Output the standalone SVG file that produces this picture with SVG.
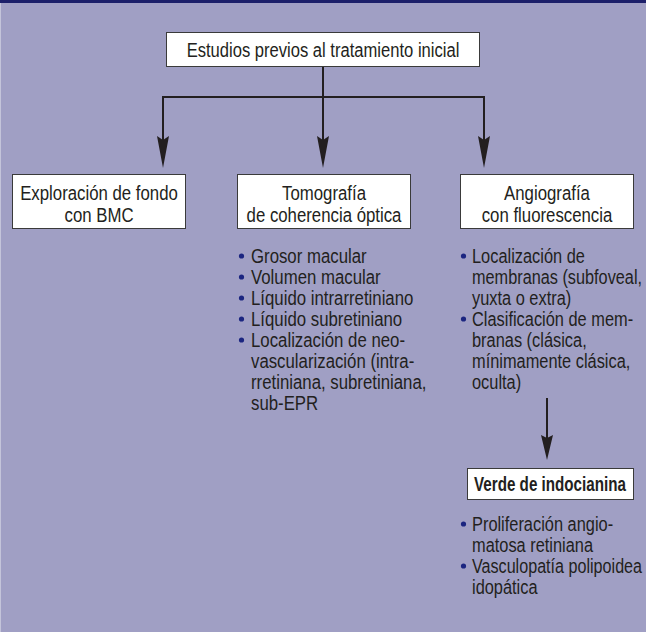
<svg xmlns="http://www.w3.org/2000/svg" width="646" height="632" viewBox="0 0 646 632">
<style>
.t{font-family:"Liberation Sans",Arial,sans-serif;font-size:21px;fill:#231f20}
.c{text-anchor:middle}
.bold{font-weight:bold;font-size:20px}
.box{fill:#fff;stroke:#3a3a3a;stroke-width:1}
.ln{stroke:#231f20;stroke-width:2;fill:none}
.dot{fill:#1b2580}
</style>
<defs>
<marker id="ah" markerUnits="userSpaceOnUse" markerWidth="32" markerHeight="12" viewBox="0 0 32 12" refX="24" refY="6" orient="auto"><path d="M0,0 L32,6 L0,12 L4,6 Z" fill="#231f20"/></marker>
<marker id="ah2" markerUnits="userSpaceOnUse" markerWidth="25" markerHeight="12" viewBox="0 0 25 12" refX="18" refY="6" orient="auto"><path d="M0,0 L25,6 L0,12 L3,6 Z" fill="#231f20"/></marker>
</defs>
<rect x="0" y="0" width="646" height="632" fill="#a09fc4"/>
<rect x="0" y="0" width="646" height="3" fill="#1c1f6a"/>
<rect x="0" y="3" width="1" height="629" fill="#c4c4da"/>

<g id="connectors">
<path class="ln" d="M323,67 V97 M162,97 H485"/>
<path class="ln" d="M163,96 V160" marker-end="url(#ah)"/>
<path class="ln" d="M323,97 V160" marker-end="url(#ah)"/>
<path class="ln" d="M484,96 V160" marker-end="url(#ah)"/>
<path class="ln" d="M547,398 V453" marker-end="url(#ah2)"/>
</g>

<g id="n-estudios">
<rect class="box" x="166.5" y="32.5" width="313" height="34"/>
<g transform="translate(323,0) scale(0.79,1)"><text class="t c" x="0" y="57">Estudios previos al tratamiento inicial</text></g>
</g>

<g id="n-exploracion">
<rect class="box" x="12.5" y="174.5" width="173" height="54"/>
<g transform="translate(99,0) scale(0.8,1)"><text class="t c" x="0" y="200">Exploración de fondo</text><text class="t c" x="0" y="222">con BMC</text></g>
</g>

<g id="n-tomografia">
<rect class="box" x="237.5" y="174.5" width="173" height="54"/>
<g transform="translate(324,0) scale(0.8,1)"><text class="t c" x="0" y="200">Tomografía</text><text class="t c" x="0" y="222">de coherencia óptica</text></g>
</g>

<g id="n-angiografia">
<rect class="box" x="460.5" y="174.5" width="173" height="54"/>
<g transform="translate(547,0) scale(0.8,1)"><text class="t c" x="0" y="200">Angiografía</text><text class="t c" x="0" y="222">con fluorescencia</text></g>
</g>

<g id="n-tomografia-items">
<circle class="dot" cx="241.5" cy="256" r="2.6"/>
<circle class="dot" cx="241.5" cy="277" r="2.6"/>
<circle class="dot" cx="241.5" cy="298" r="2.6"/>
<circle class="dot" cx="241.5" cy="319" r="2.6"/>
<circle class="dot" cx="241.5" cy="340" r="2.6"/>
<g transform="translate(251,0) scale(0.8,1)">
<text class="t" x="0" y="263">Grosor macular</text>
<text class="t" x="0" y="284">Volumen macular</text>
<text class="t" x="0" y="305">Líquido intrarretiniano</text>
<text class="t" x="0" y="326">Líquido subretiniano</text>
<text class="t" x="0" y="347">Localización de neo-</text>
<text class="t" x="0" y="368">vascularización (intra-</text>
<text class="t" x="0" y="389">rretiniana, subretiniana,</text>
<text class="t" x="0" y="410">sub-EPR</text>
</g>
</g>

<g id="n-angiografia-items">
<circle class="dot" cx="463.5" cy="256" r="2.6"/>
<circle class="dot" cx="463.5" cy="319" r="2.6"/>
<g transform="translate(472,0) scale(0.78,1)">
<text class="t" x="0" y="263">Localización de</text>
<text class="t" x="0" y="284" textLength="218" lengthAdjust="spacingAndGlyphs">membranas (subfoveal,</text>
<text class="t" x="0" y="305">yuxta o extra)</text>
<text class="t" x="0" y="326">Clasificación de mem-</text>
<text class="t" x="0" y="347">branas (clásica,</text>
<text class="t" x="0" y="368">mínimamente clásica,</text>
<text class="t" x="0" y="389">oculta)</text>
</g>
</g>

<g id="n-verde">
<rect class="box" x="467.5" y="468.5" width="166" height="31"/>
<g transform="translate(550,0) scale(0.76,1)"><text class="t c bold" x="0" y="491">Verde de indocianina</text></g>
</g>

<g id="n-verde-items">
<circle class="dot" cx="463.5" cy="524" r="2.6"/>
<circle class="dot" cx="463.5" cy="566" r="2.6"/>
<g transform="translate(472,0) scale(0.78,1)">
<text class="t" x="0" y="531">Proliferación angio-</text>
<text class="t" x="0" y="552">matosa retiniana</text>
<text class="t" x="0" y="573" textLength="218" lengthAdjust="spacingAndGlyphs">Vasculopatía polipoidea</text>
<text class="t" x="0" y="594">idopática</text>
</g>
</g>
</svg>
